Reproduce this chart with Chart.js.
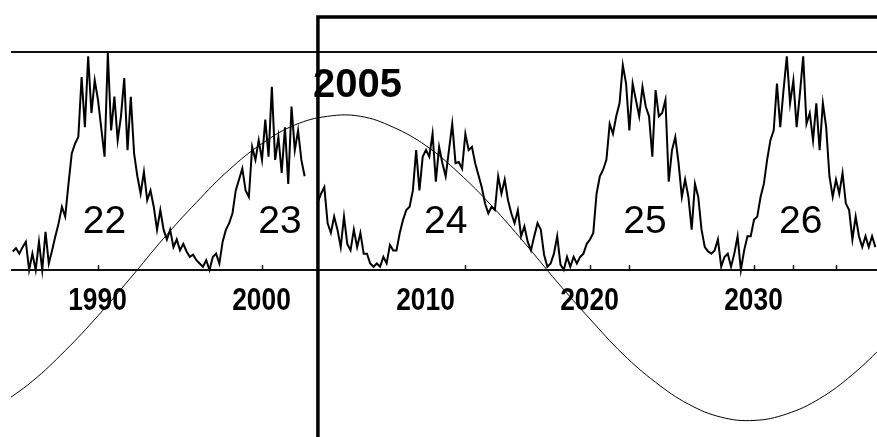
<!DOCTYPE html>
<html>
<head>
<meta charset="utf-8">
<script src="https://cdn.jsdelivr.net/npm/chart.js@4/dist/chart.umd.min.js"></script>
<style>
  html, body { margin: 0; padding: 0; background: #fff; }
  #wrap { width: 877px; height: 437px; }
</style>
</head>
<body>
<div id="wrap"><canvas id="cycles" width="877" height="437"></canvas></div>
<script>
// sunspot series, one sample every 0.2 year from 1984.8 (null = gap before the 2005 line)
var firstYear = 1984.8;
var yearStep = 0.2;
var sunspots = [
  17,20,15,21,26,0,15,0,26,0,
  35,6,18,31,43,58,49,79,107,116,
  122,177,131,196,144,174,156,130,104,199,
  128,159,119,141,176,110,159,107,86,70,
  90,64,73,58,37,55,37,28,37,21,
  28,18,24,17,12,14,9,6,3,9,
  0,12,15,6,
  26,37,43,52,73,83,
  93,73,67,113,101,119,101,138,104,168,
  101,122,89,131,79,150,110,128,101,86,
  null,null,null,
  62,70,76,43,34,49,37,
  21,49,24,18,37,21,34,15,15,6,
  3,6,3,12,6,23,18,18,34,46,
  55,58,73,110,73,104,110,104,
  125,81,113,98,86,110,134,98,99,93,125,110,
  113,98,87,76,61,52,58,55,86,70,
  83,64,52,43,55,31,40,26,18,31,
  43,37,14,3,6,15,31,5,0,12,
  3,12,6,12,15,24,28,34,70,86,
  92,101,134,125,141,153,188,171,128,171,
  156,141,
  168,150,141,104,165,141,144,156,
  81,110,122,98,67,83,67,37,79,67,
  37,21,17,15,18,28,3,12,15,3,
  15,31,0,18,31,31,46,49,67,79,
  101,119,128,171,131,165,196,153,174,131,
  162,196,134,144,119,153,110,153,131,86,
  67,83,70,89,61,55,28,49,31,21,
  31,21,31,21
];

// long wave
var waveYears = [1984,1986,1988,1990,1992,1994,1996,1998,2000,2002,2004,2006,2008,2010,
                 2012,2014,2016,2018,2020,2022,2024,2026,2028,2030,2032,2034,2036,2038];
var waveValues = [-124,-102,-74,-42,-7,29,62,92,116,133,141,141,131,114,
                  89,59,25,-11,-45,-77,-103,-123,-135,-138,-132,-118,-96,-68];

var axisYears = [1990, 2000, 2010, 2020, 2030];
var tickYears = [1990, 2000, 2012.4, 2020, 2022.4, 2030, 2032.4, 2035];
var cycleNames = ['22', '23', '24', '25', '26'];
var cycleYears = [1990.4, 2001.1, 2011.2, 2023.35, 2032.85];
var cycleValue = 34;
var topValue = 200;
var markerYear = 2003.41;
var markerLabel = '2005';
var markerTopValue = 232;

var ssnPoints = [];
for (var i = 0; i < sunspots.length; i++) {
  ssnPoints.push({x: firstYear + i * yearStep, y: sunspots[i]});
}
var wavePoints = [];
for (var j = 0; j < waveYears.length; j++) {
  wavePoints.push({x: waveYears[j], y: waveValues[j]});
}

function $each(arr, fn) {
  for (var k = 0; k < arr.length; k++) fn(arr[k], k);
}

var framePlugin = {
  id: 'frame',
  afterDatasetsDraw: function(chart) {
    var ctx = chart.ctx;
    var xs = chart.scales.x, ys = chart.scales.y;
    var area = chart.chartArea;
    var base = ys.getPixelForValue(0);
    var top = ys.getPixelForValue(topValue);
    var mx = xs.getPixelForValue(markerYear);
    var mTop = ys.getPixelForValue(markerTopValue);

    ctx.save();
    ctx.strokeStyle = '#111';
    ctx.lineWidth = 2;
    ctx.beginPath();
    ctx.moveTo(area.left, base); ctx.lineTo(area.right, base);
    ctx.moveTo(area.left, top); ctx.lineTo(area.right, top);
    ctx.stroke();

    ctx.lineWidth = 1.5;
    ctx.beginPath();
    $each(tickYears, function(y) {
      var tx = Math.round(xs.getPixelForValue(y)) + 0.5;
      ctx.moveTo(tx, base); ctx.lineTo(tx, base - 5);
    });
    ctx.stroke();

    // 2005 frame
    ctx.strokeStyle = '#000';
    ctx.lineWidth = 3.5;
    ctx.beginPath();
    ctx.moveTo(mx, area.bottom); ctx.lineTo(mx, mTop); ctx.lineTo(area.right, mTop);
    ctx.stroke();

    ctx.fillStyle = '#000';
    ctx.textAlign = 'center';
    ctx.textBaseline = 'alphabetic';
    ctx.font = 'bold 31px "Liberation Sans", Arial, sans-serif';
    $each(axisYears, function(y) {
      ctx.save();
      ctx.translate(xs.getPixelForValue(y) - 0.5, base + 40);
      ctx.scale(0.85, 1);
      ctx.fillText(String(y), 0, 0);
      ctx.restore();
    });

    ctx.font = '39px "Liberation Sans", Arial, sans-serif';
    $each(cycleNames, function(name, k) {
      ctx.fillText(name, xs.getPixelForValue(cycleYears[k]), ys.getPixelForValue(cycleValue));
    });

    ctx.textAlign = 'left';
    ctx.font = 'bold 40px "Liberation Sans", Arial, sans-serif';
    ctx.fillText(markerLabel, mx - 5, ys.getPixelForValue(158.7));
    ctx.restore();
  }
};

new Chart(document.getElementById('cycles'), {
  type: 'line',
  data: {
    datasets: [
      {data: ssnPoints, borderColor: '#000', borderWidth: 2, pointRadius: 0, tension: 0, spanGaps: false},
      {data: wavePoints, borderColor: '#000', borderWidth: 1, pointRadius: 0, tension: 0.4}
    ]
  },
  options: {
    responsive: false,
    animation: false,
    events: [],
    layout: {padding: {left: 11, right: 0, top: 0, bottom: 0}},
    plugins: {legend: {display: false}, tooltip: {enabled: false}},
    scales: {
      x: {type: 'linear', min: 1984.695, max: 2037.5, display: false},
      y: {min: -153.2, max: 247.7, display: false}
    }
  },
  plugins: [framePlugin]
});
</script>
</body>
</html>
